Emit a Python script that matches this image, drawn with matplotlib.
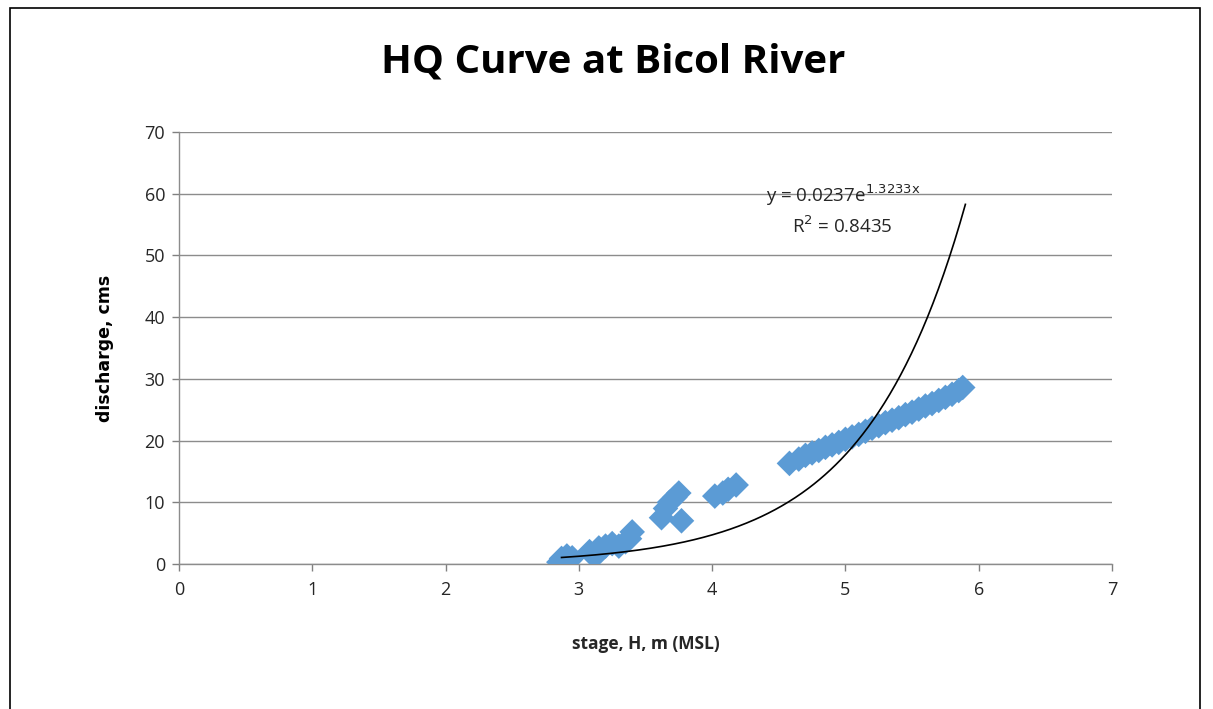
import numpy as np
import matplotlib
matplotlib.use("Agg")
import matplotlib.pyplot as plt
from matplotlib.patches import Rectangle

# Observed stage (m, MSL) and discharge (cms)
stage = [2.85, 2.87, 2.89, 2.91, 2.93, 2.95,
         3.08, 3.12, 3.15, 3.20, 3.25, 3.30, 3.35, 3.38, 3.40,
         3.62, 3.65, 3.68, 3.72, 3.75, 3.77,
         4.02, 4.08, 4.12, 4.18,
         4.58, 4.65, 4.70, 4.75, 4.80, 4.85, 4.90, 4.95, 5.00, 5.05, 5.10,
         5.15, 5.20, 5.25, 5.30, 5.35, 5.40, 5.45, 5.50, 5.55, 5.60, 5.65,
         5.70, 5.75, 5.80, 5.85, 5.88]
discharge = [0.3, 0.9, 0.2, 1.3, 0.6, 1.0,
             2.0, 1.2, 2.6, 2.9, 3.3, 2.9, 3.6, 4.1, 5.2,
             7.5, 9.0, 10.0, 10.8, 11.5, 7.0,
             11.0, 11.5, 12.1, 12.8,
             16.3, 17.0, 17.6, 18.0, 18.4, 18.9, 19.3, 19.7, 20.2, 20.6, 21.0,
             21.5, 22.0, 22.4, 22.9, 23.3, 23.7, 24.2, 24.6, 25.1, 25.6, 26.0,
             26.5, 27.0, 27.5, 28.1, 28.6]

# Exponential trendline coefficients (as printed on the chart)
coef_a = 0.0237
coef_b = 1.3233
r2 = 0.8435

x_ticks = [0, 1, 2, 3, 4, 5, 6, 7]
y_ticks = [0, 10, 20, 30, 40, 50, 60, 70]

plt.rcParams['font.family'] = ['Open Sans', 'DejaVu Sans']

fig = plt.figure(figsize=(12.13, 7.09), dpi=100)
fig.patches.append(Rectangle((10/1213, -0.05), (1200-10)/1213, 1.05 - 8/709,
                             transform=fig.transFigure, fill=False,
                             edgecolor='black', linewidth=1.2))

ax = fig.add_axes([179/1213, 1-564/709, (1112-179)/1213, (564-132)/709])

ax.scatter(stage, discharge, marker='D', s=170, color='#5B9BD5',
           edgecolors='none', zorder=3)

xs = np.linspace(2.87, 5.9, 300)
ax.plot(xs, coef_a*np.exp(coef_b*xs), color='black', linewidth=1.2, zorder=4)

ax.set_xlim(0, 7)
ax.set_ylim(0, 70)
ax.set_xticks(x_ticks)
ax.set_yticks(y_ticks)
ax.tick_params(axis='both', labelsize=13, length=5, width=1, direction='out')
ax.tick_params(axis='x', colors='#808080', labelcolor='#262626', pad=7)
ax.tick_params(axis='y', colors='#808080', labelcolor='#262626', pad=5)
ax.grid(axis='y', color='#8c8c8c', linewidth=1)
ax.set_axisbelow(True)
for s in ['top', 'right']:
    ax.spines[s].set_visible(False)
for s in ['left', 'bottom']:
    ax.spines[s].set_color('#8c8c8c')
    ax.spines[s].set_linewidth(1)

ax.set_xlabel('stage, H, m (MSL)', fontsize=12.5, fontweight='bold',
              color='#262626', labelpad=26)
ax.set_ylabel('discharge, cms', fontsize=12.5, fontweight='bold',
              color='#000000', labelpad=22, family=['DejaVu Sans'])

fig.text(613/1213, 1 - 62/709, 'HQ Curve at Bicol River',
         ha='center', va='center', fontsize=29, fontweight='bold', color='black')

ax.text(4.98, 59.8, r'y = 0.0237e$^{\mathrm{1.3233x}}$', ha='center', va='center',
        fontsize=13.5, color='#262626')
ax.text(4.98, 54.8, r'R$^{\mathrm{2}}$ = 0.8435', ha='center', va='center',
        fontsize=13.5, color='#262626')

fig.savefig('out.png', dpi=100)
